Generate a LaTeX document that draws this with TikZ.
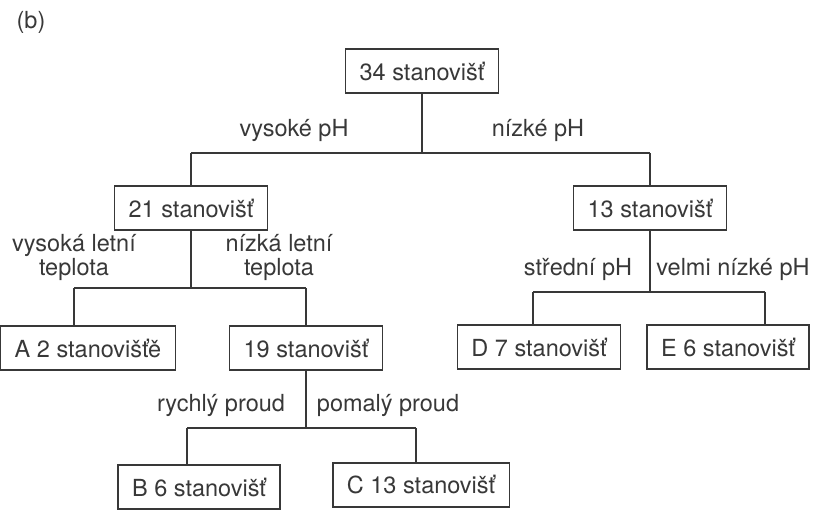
\documentclass[tikz,border=0pt]{standalone}
\usepackage{fontspec}
\setmainfont{TeX Gyre Heros}
\pgfdeclarelayer{edgelayer}
\pgfdeclarelayer{nodelayer}
\pgfsetlayers{edgelayer,nodelayer,main}
\definecolor{ink}{gray}{0.22}
\tikzstyle{none}=[inner sep=0pt, text=ink, align=center, font=\fontsize{23.5}{24}\selectfont]
\tikzstyle{edge}=[draw=ink, line width=1.2pt]
\tikzstyle{site}=[rectangle, fill=white, draw=ink, line width=1.2pt, text=ink, inner xsep=14pt, minimum height=44pt, font=\fontsize{23.5}{24}\selectfont]

\begin{document}
\begin{tikzpicture}[x=1pt, y=-1pt]
			\useasboundingbox (0,0) rectangle (818,514);
			\begin{pgfonlayer}{nodelayer}
			\node [style=site] (0) at (422, 71) {34 stanovišť};
			\node [style=site] (1) at (191, 208) {21 stanovišť};
			\node [style=site] (2) at (650, 208) {13 stanovišť};
			\node [style=site] (3) at (88, 348) {A 2 stanovišťě};
			\node [style=site] (4) at (306, 348) {19 stanovišť};
			\node [style=site] (5) at (539, 347) {D 7 stanovišť};
			\node [style=site] (6) at (728, 347) {E 6 stanovišť};
			\node [style=site] (7) at (199, 487) {B 6 stanovišť};
			\node [style=site] (8) at (421, 485) {C 13 stanovišť};
			\node [style=none] (10) at (422, 153) {};
			\node [style=none] (11) at (191, 153) {};
			\node [style=none] (12) at (650, 153) {};
			\node [style=none] (13) at (191, 288) {};
			\node [style=none] (14) at (74, 288) {};
			\node [style=none] (15) at (306, 288) {};
			\node [style=none] (16) at (650, 292) {};
			\node [style=none] (17) at (533, 292) {};
			\node [style=none] (18) at (765, 292) {};
			\node [style=none] (19) at (306, 428) {};
			\node [style=none] (20) at (187, 428) {};
			\node [style=none] (21) at (416, 428) {};
			\node [style=none] (30) at (31, 22) {(b)};
			\node [style=none] (31) at (294, 130) {vysoké pH};
			\node [style=none] (32) at (538, 130) {nízké pH};
			\node [style=none] (33) at (74, 257) {vysoká letní\\teplota};
			\node [style=none] (34) at (279, 257) {nízká letní\\teplota};
			\node [style=none] (35) at (578, 269) {střední pH};
			\node [style=none] (36) at (733, 269) {velmi nízké pH};
			\node [style=none] (37) at (221, 405) {rychlý proud};
			\node [style=none] (38) at (388, 405) {pomalý proud};
			\end{pgfonlayer}
			\begin{pgfonlayer}{edgelayer}
			\draw [style=edge] (0) to (10.center);
			\draw [style=edge] (11.center) to (12.center);
			\draw [style=edge] (11.center) to (1);
			\draw [style=edge] (12.center) to (2);
			\draw [style=edge] (1) to (13.center);
			\draw [style=edge] (14.center) to (15.center);
			\draw [style=edge] (14.center) to (14.center |- 3.north);
			\draw [style=edge] (15.center) to (4);
			\draw [style=edge] (2) to (16.center);
			\draw [style=edge] (17.center) to (18.center);
			\draw [style=edge] (17.center) to (17.center |- 5.north);
			\draw [style=edge] (18.center) to (18.center |- 6.north);
			\draw [style=edge] (4) to (19.center);
			\draw [style=edge] (20.center) to (21.center);
			\draw [style=edge] (20.center) to (20.center |- 7.north);
			\draw [style=edge] (21.center) to (21.center |- 8.north);
			\end{pgfonlayer}
\end{tikzpicture}
\end{document}
